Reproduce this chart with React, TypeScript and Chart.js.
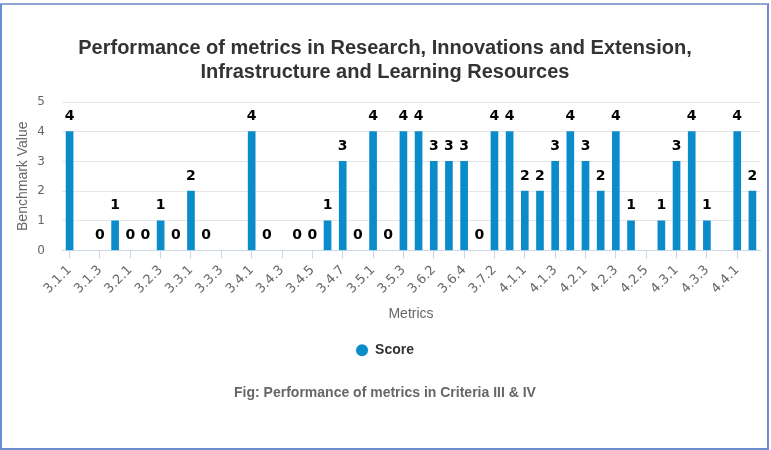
import React, { useEffect, useRef } from "react";
import { Chart, registerables } from "chart.js";

Chart.register(...registerables);

const titleLines = [
  "Performance of metrics in Research, Innovations and Extension,",
  "Infrastructure and Learning Resources",
];
const caption = "Fig: Performance of metrics in Criteria III & IV";
const seriesName = "Score";
const xAxisTitle = "Metrics";
const yAxisTitle = "Benchmark Value";

const categories = [
  "3.1.1", "3.1.2", "3.1.3", "3.1.4", "3.2.1", "3.2.2", "3.2.3", "3.2.4",
  "3.3.1", "3.3.2", "3.3.3", "3.3.4", "3.4.1", "3.4.2", "3.4.3", "3.4.4",
  "3.4.5", "3.4.6", "3.4.7", "3.4.8", "3.5.1", "3.5.2", "3.5.3", "3.6.1",
  "3.6.2", "3.6.3", "3.6.4", "3.7.1", "3.7.2", "3.7.3", "4.1.1", "4.1.2",
  "4.1.3", "4.1.4", "4.2.1", "4.2.2", "4.2.3", "4.2.4", "4.2.5", "4.2.6",
  "4.3.1", "4.3.2", "4.3.3", "4.3.4", "4.4.1", "4.4.2",
];

const scores: (number | null)[] = [
  4, null, 0, 1, 0, 0, 1, 0,
  2, 0, null, null, 4, 0, null, 0,
  0, 1, 3, 0, 4, 0, 4, 4,
  3, 3, 3, 0, 4, 4, 2, 2,
  3, 4, 3, 2, 4, 1, null, 1,
  3, 4, 1, null, 4, 2,
];

const yTicks = [0, 1, 2, 3, 4, 5];

const barColor = "#0a8ccb";

const valueLabels = {
  id: "valueLabels",
  afterDatasetsDraw(chart: any) {
    const ctx = chart.ctx;
    const meta = chart.getDatasetMeta(0);
    const data = chart.data.datasets[0].data;
    ctx.save();
    ctx.font = "bold 14px 'DejaVu Sans'";
    ctx.fillStyle = "#000000";
    ctx.textAlign = "center";
    ctx.textBaseline = "middle";
    meta.data.forEach((bar: any, i: number) => {
      const v = data[i];
      if (v === null || v === undefined) return;
      ctx.fillText(String(v), bar.x, bar.y - 15);
    });
    ctx.restore();
  },
};

export default function App() {
  const canvasRef = useRef<HTMLCanvasElement | null>(null);

  useEffect(() => {
    if (!canvasRef.current) return;
    const chart = new Chart(canvasRef.current, {
      type: "bar",
      data: {
        labels: categories,
        datasets: [
          {
            label: seriesName,
            data: scores,
            backgroundColor: (c: any) => (c.raw === 0 ? "rgba(0,0,0,0)" : barColor),
            borderWidth: 0,
            barThickness: 7,
          },
        ],
      },
      options: {
        responsive: false,
        animation: false,
        layout: { padding: { left: 10, right: 11, top: 0, bottom: 0 } },
        plugins: {
          title: {
            display: true,
            text: titleLines,
            color: "#333333",
            font: { family: "'Liberation Sans', Arial", size: 20, weight: "bold", lineHeight: 1.2 },
            padding: { top: 36, bottom: 18 },
          },
          legend: {
            display: true,
            position: "bottom",
            labels: {
              usePointStyle: true,
              pointStyle: "circle",
              pointStyleWidth: 12,
              boxWidth: 12,
              boxHeight: 8.49,
              color: "#333333",
              font: { family: "'Liberation Sans', Arial", size: 14, weight: "bold" },
              padding: 10,
              generateLabels: () => [
                {
                  text: seriesName,
                  fillStyle: barColor,
                  strokeStyle: barColor,
                  lineWidth: 0,
                  pointStyle: "circle",
                  hidden: false,
                  datasetIndex: 0,
                  fontColor: "#333333",
                },
              ],
            },
          },
          subtitle: {
            display: true,
            position: "bottom",
            text: caption,
            color: "#666666",
            font: { family: "'Liberation Sans', Arial", size: 14, weight: "bold", lineHeight: 1.2 },
            padding: { top: 18, bottom: 48 },
          },
          tooltip: { enabled: false },
        },
        scales: {
          x: {
            offset: true,
            afterBuildTicks: (scale: any) => {
              scale.ticks = scale.ticks.filter((t: any) => t.value % 2 === 0);
            },
            afterFit: (scale: any) => {
              scale.paddingLeft = 0;
              scale.paddingRight = 0;
            },
            ticks: {
              autoSkip: false,
              minRotation: 45,
              maxRotation: 45,
              color: "#666666",
              font: { family: "'DejaVu Sans'", size: 13 },
              padding: 4,
            },
            grid: {
              display: true,
              offset: false,
              drawOnChartArea: false,
              drawTicks: true,
              tickLength: 8,
              color: "#ccd6eb",
            },
            border: { display: true, color: "#ccd6eb", width: 1 },
            title: {
              display: true,
              text: xAxisTitle,
              color: "#666666",
              font: { family: "'Liberation Sans', Arial", size: 14, lineHeight: 1.2 },
              padding: { top: 4.5, bottom: 11 },
            },
          },
          y: {
            min: 0,
            max: 5,
            afterBuildTicks: (scale: any) => {
              scale.ticks = yTicks.map((v) => ({ value: v }));
            },
            afterFit: (scale: any) => {
              scale.width = 52;
            },
            ticks: {
              color: "#666666",
              font: { family: "'DejaVu Sans'", size: 12 },
              padding: 17,
            },
            grid: { color: "#e6e6e6", drawTicks: false },
            border: { display: false },
            title: {
              display: true,
              text: yAxisTitle,
              color: "#666666",
              font: { family: "'Liberation Sans', Arial", size: 14, lineHeight: 1.2 },
              padding: { top: 5, bottom: 4 },
            },
          },
        },
      },
      plugins: [valueLabels],
    });
    return () => chart.destroy();
  }, []);

  return (
    <div style={{ position: "fixed", left: 0, top: 0, width: 771, height: 450, background: "#ffffff" }}>
      <canvas
        ref={canvasRef}
        width={771}
        height={450}
        style={{ position: "absolute", left: 0, top: 0, width: 771, height: 450 }}
      />
      <div
        style={{
          position: "absolute",
          left: 0,
          top: 3,
          width: 769,
          height: 447,
          boxSizing: "border-box",
          borderLeft: "2px solid #6b8ed3",
          borderRight: "2px solid #6b8ed3",
          borderTop: "2px solid #8fa6d3",
          borderBottom: "2px solid #6b8ed3",
          pointerEvents: "none",
        }}
      />
    </div>
  );
}
